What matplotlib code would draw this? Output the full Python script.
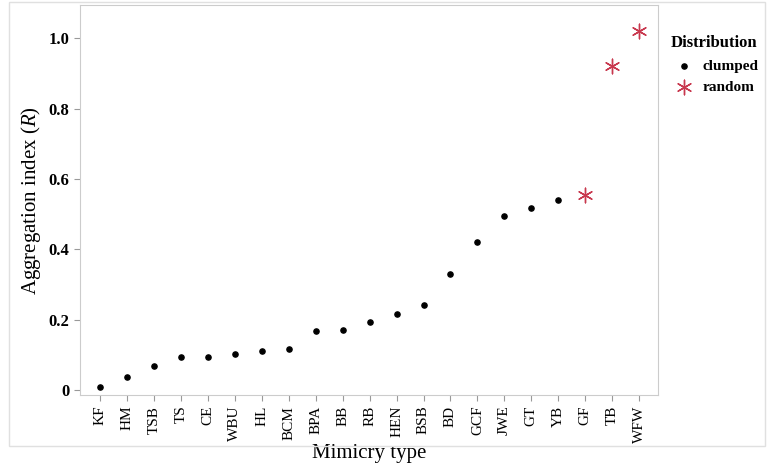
import matplotlib
matplotlib.use("Agg")
import matplotlib.pyplot as plt
from matplotlib.ticker import FuncFormatter

categories = ["KF","HM","TSB","TS","CE","WBU","HL","BCM","BPA","BB","RB","HEN","BSB","BD","GCF","JWE","GT","YB","GF","TB","WFW"]
values = [0.01,0.038,0.07,0.095,0.095,0.102,0.112,0.118,0.168,0.172,0.193,0.218,0.243,0.33,0.42,0.495,0.518,0.54,0.555,0.92,1.02]
distribution = ["clumped"]*18 + ["random"]*3

plt.rcParams["font.family"] = "Liberation Serif"
plt.rcParams["mathtext.fontset"] = "custom"
plt.rcParams["mathtext.it"] = "Liberation Serif:italic"
fig = plt.figure(figsize=(7.67,4.65), dpi=100)
fig.patches.append(plt.Rectangle((0.012,0.04),0.985,0.955, transform=fig.transFigure, fill=False, ec="#e0e0e0", lw=1))
ax = fig.add_axes([0.104,0.15,0.754,0.839])
xs = list(range(len(categories)))
cx = [x for x,d in zip(xs,distribution) if d=="clumped"]
cy = [v for v,d in zip(values,distribution) if d=="clumped"]
rx = [x for x,d in zip(xs,distribution) if d=="random"]
ry = [v for v,d in zip(values,distribution) if d=="random"]
ax.scatter(cx, cy, s=14, color="black", label="clumped", zorder=3)
ax.scatter(rx, ry, s=110, marker=(6,2,0), color="#c8384e", linewidths=1, label="random", zorder=3)
ax.set_xlim(-0.75, 20.7)
ax.set_ylim(-0.014, 1.094)
ax.set_xticks(xs)
ax.set_xticklabels(categories, rotation=90, fontsize=11)
ax.set_yticks([0,0.2,0.4,0.6,0.8,1.0])
ax.yaxis.set_major_formatter(FuncFormatter(lambda v,p: "0" if v==0 else f"{v:.1f}"))
for t in ax.get_yticklabels():
    t.set_fontweight("bold"); t.set_fontsize(12)
for s in ax.spines.values():
    s.set_color("#cccccc")
ax.tick_params(color="#999999", length=4)
ax.set_xlabel("Mimicry type", fontsize=15, labelpad=1)
ax.set_ylabel("Aggregation index ($\\it{R}$)", fontsize=15)
leg = ax.legend(title="Distribution", loc="upper left", bbox_to_anchor=(1.0,0.95), frameon=False,
                prop={"weight":"bold","size":11}, handletextpad=0.2, borderaxespad=0.3)
leg.get_title().set_fontweight("bold"); leg.get_title().set_fontsize(12)
fig.savefig("out.png", dpi=100)
